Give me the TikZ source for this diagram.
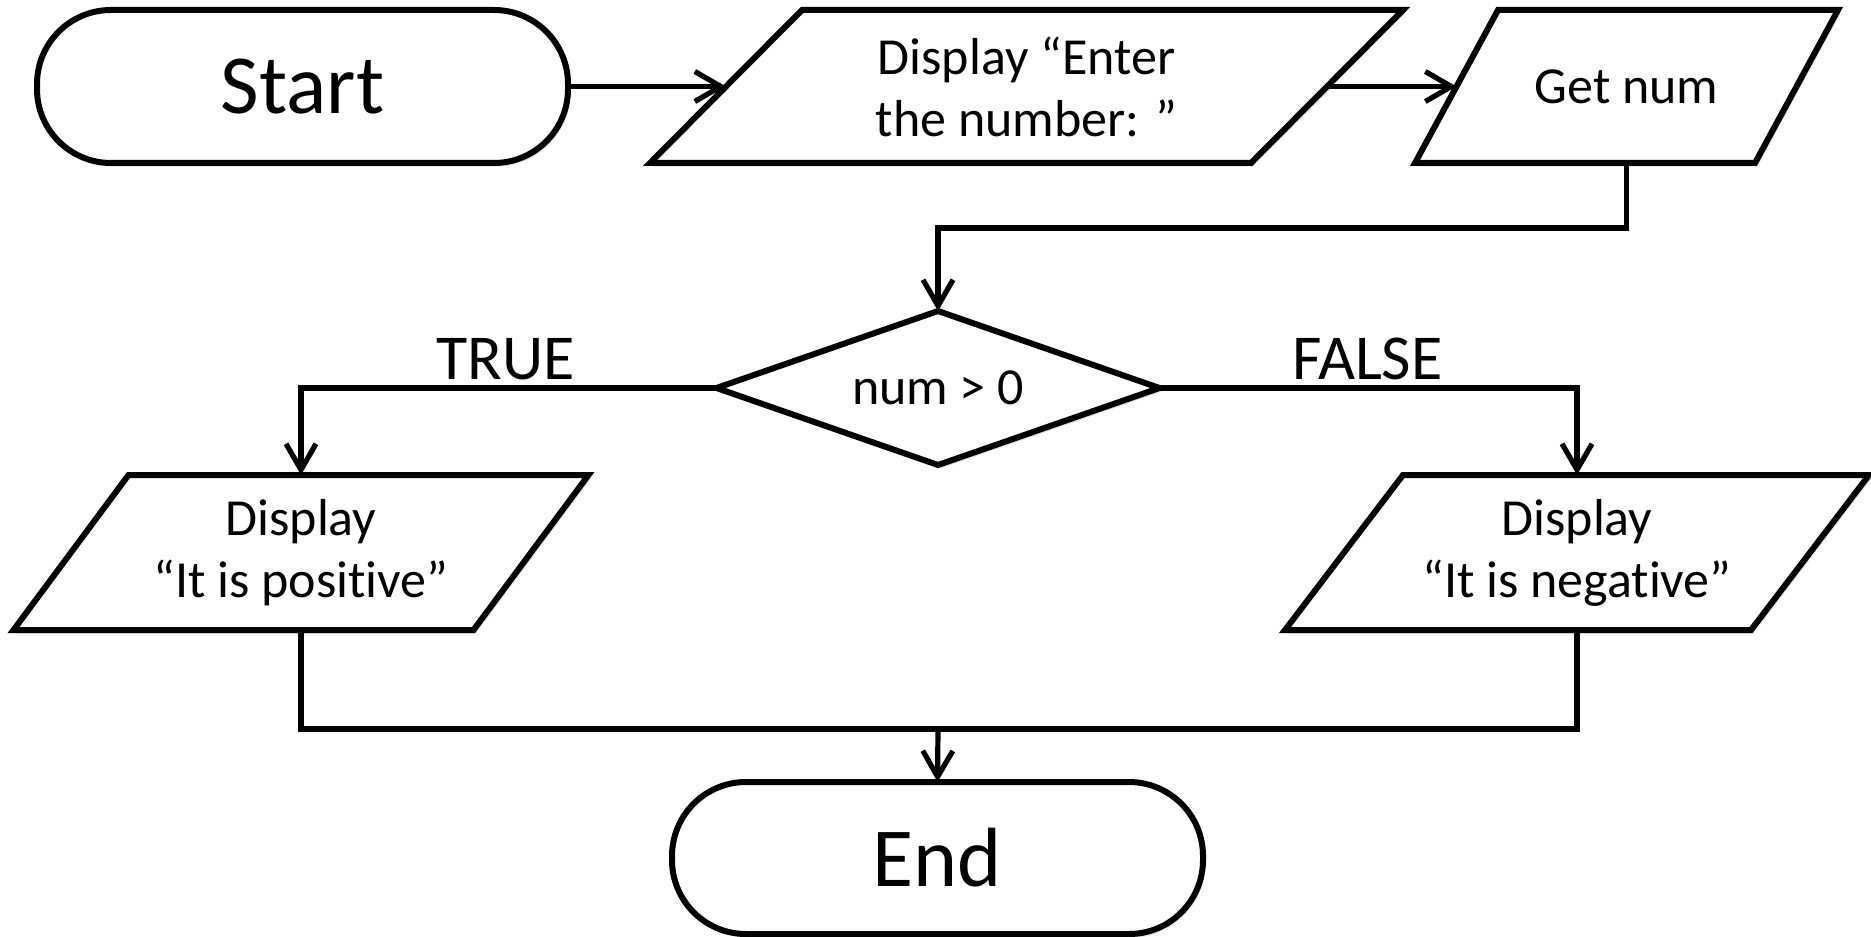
\documentclass[tikz,border=0pt]{standalone}
\usepackage{fontspec}
\setmainfont{Carlito}[Ligatures={NoCommon,NoRequired,NoContextual}]
\usetikzlibrary{shapes.geometric,arrows.meta,shadows}
\pgfdeclarelayer{back}
\pgfsetlayers{back,main}

% parallelogram frame around a text node: node name, half of the horizontal slant
\newcommand\ioframe[2]{%
  \path[ioedge] ([xshift=-#2]#1.south west) -- ([xshift=#2]#1.north west)
    -- ([xshift=#2]#1.north east) -- ([xshift=-#2]#1.south east) -- cycle;}

\begin{document}
\begin{tikzpicture}[x=0.5pt,y=-0.5pt,
  shadowed/.style={drop shadow={shadow xshift=1.2pt, shadow yshift=-1.8pt, opacity=0.22}},
  base/.style={draw=black, line width=3pt, fill=white, outer sep=0pt, inner sep=2pt, shadowed},
  terminal/.style={base, rectangle, rounded corners=37pt, minimum width=265.5pt,
    minimum height=76.5pt, font=\fontsize{42}{48}\selectfont},
  io/.style={rectangle, outer sep=0pt, inner sep=2pt, align=center,
    minimum height=77pt, font=\fontsize{26}{31}\selectfont},
  ioedge/.style={draw=black, line width=3pt, fill=white, line join=miter, shadowed},
  decision/.style={base, diamond, aspect=2.9, minimum width=221.5pt,
    minimum height=77pt, font=\fontsize{26}{31}\selectfont},
  flow/.style={line width=2.6pt},
  arrow/.style={flow, -{Straight Barb[length=13pt, width=15pt]}},
  branch/.style={font=\fontsize{32}{38}\selectfont, anchor=base, yshift=4.5pt}
]
\useasboundingbox (0,0) rectangle (1871,936);

% process steps
\node[terminal] (start) at (302.5,86.5) {Start};
\node[io, minimum width=300.5pt, minimum height=76.5pt] (prompt) at (1026.5,86.5)
  {Display “Enter\\the number: ”};
\node[io, minimum width=170pt, minimum height=76.5pt] (getnum) at (1626.5,86.5) {Get num};
\node[decision] (test) at (938,388) {num > 0};
\node[io, minimum width=230pt, minimum height=77.5pt] (pos) at (301,552.5)
  {Display\\“It is positive”};
\node[io, minimum width=233pt, minimum height=77.5pt] (neg) at (1577,552.5)
  {Display\\“It is negative”};
\node[terminal, minimum height=76pt] (finish) at (937.5,858) {End};

% white page and the input/output frames behind their texts
\begin{pgfonlayer}{back}
  \fill[white] (0,0) rectangle (1871,936);
  \ioframe{prompt}{38pt}
  \ioframe{getnum}{20.75pt}
  \ioframe{pos}{28.75pt}
  \ioframe{neg}{29.5pt}
\end{pgfonlayer}

% routing points
\coordinate (bend) at (938,228);
\coordinate (join) at (938,729);

% connectors
\draw[arrow] (start.east) -- (prompt.west);
\draw[arrow] (prompt.east) -- (getnum.west);
\draw[arrow] (getnum.south) |- (bend) -- (test.north);
\draw[arrow] (test.west) -| node[branch, pos=0.2535] {TRUE} (pos.north);
\draw[arrow] (test.east) -| node[branch, pos=0.249] {FALSE} (neg.north);
\draw[flow] (pos.south) |- (join) -| (neg.south);
\draw[arrow] (join) -- (finish.north);
\end{tikzpicture}
\end{document}
